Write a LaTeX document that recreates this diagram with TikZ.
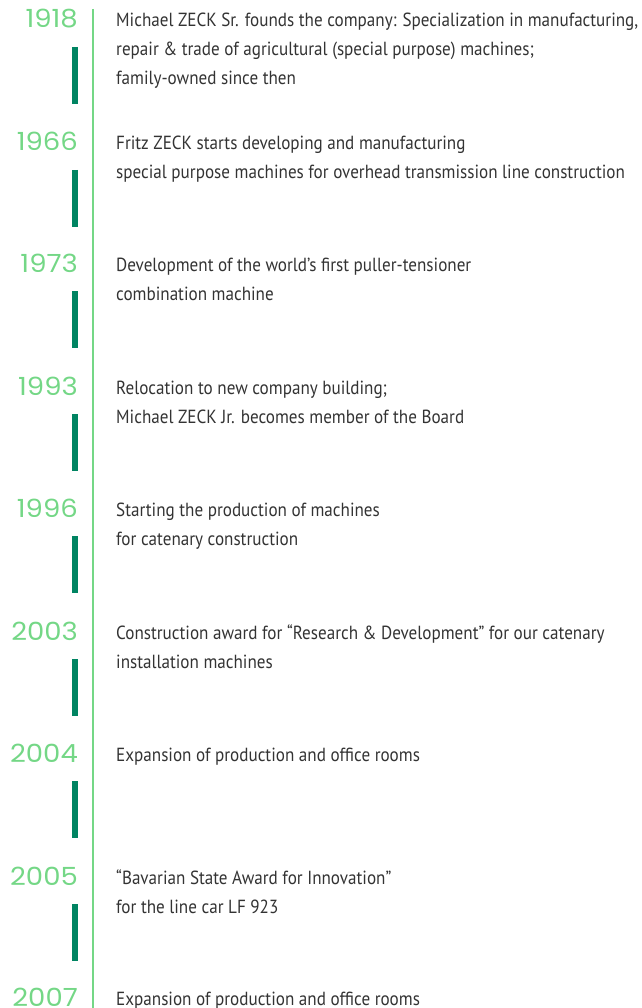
\documentclass[tikz,border=0pt]{standalone}
\usepackage{fontspec}
\setmainfont{PT Sans}[FakeStretch=0.9]
\newfontfamily\yearfont{Poppins}[FakeStretch=1.1]
\usetikzlibrary{positioning}
\definecolor{zgreen}{HTML}{74D786}
\definecolor{zdark}{HTML}{008462}
\definecolor{ztext}{HTML}{333333}

\begin{document}
\begin{tikzpicture}[x=1pt,y=-1pt,
  year/.style={anchor=base east,inner sep=0pt,text=zgreen,font=\yearfont\fontsize{25}{25}\selectfont},
  event/.style={anchor=base west,inner sep=0pt,text=ztext,font=\fontsize{19}{29}\selectfont},
  bar/.style={zdark,line width=6pt}]
  \useasboundingbox (0,0) rectangle (641,1008);

  % timeline
  \coordinate (top) at (93.3,9);
  \coordinate (bottom) at (93.3,1008);
  \draw[zgreen,line width=2pt] (top) -- (bottom);

  \foreach \yc/\yr/\txt [count=\i] in {
    19/1918/{Michael ZECK Sr. founds the company: Specialization in manufacturing,\\repair \& trade of agricultural (special purpose) machines;\\family-owned since then},
    142/1966/{Fritz ZECK starts developing and manufacturing\\special purpose machines for overhead transmission line construction},
    263/1973/{Development of the world’s first puller-tensioner\\combination machine},
    386/1993/{Relocation to new company building;\\Michael ZECK Jr. becomes member of the Board},
    508/1996/{Starting the production of machines\\for catenary construction},
    631/2003/{Construction award for “Research \& Development” for our catenary\\installation machines},
    753/2004/{Expansion of production and office rooms},
    876/2005/{“Bavarian State Award for Innovation”\\for the line car LF 923},
    997/2007/{Expansion of production and office rooms}}
  {
    \node[year] (y\i) at (78,\yc+9) {\yr};
    \node[event] (e\i) at (116,\yc+8) {\begin{tabular}[t]{@{}l@{}}\txt\end{tabular}};
  }

  % bars below the years
  \foreach \yc in {19,142,263,386,508,631,753,876}
    \draw[bar] (74.7,\yc+28) -- (74.7,\yc+85);
\end{tikzpicture}
\end{document}
